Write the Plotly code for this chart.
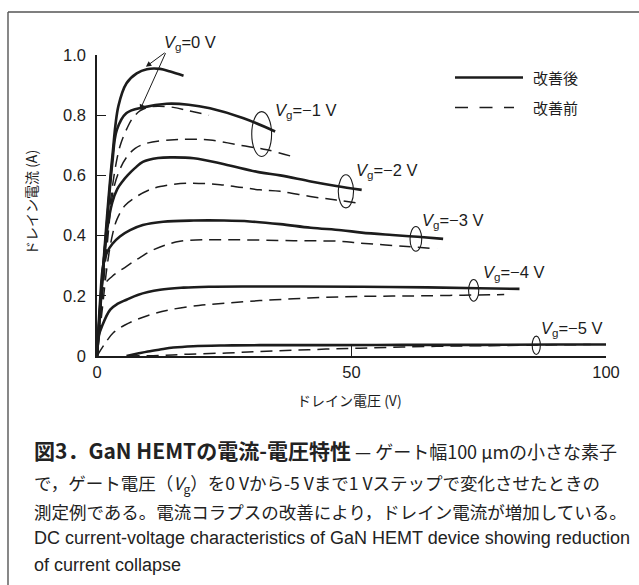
import plotly.graph_objects as go

# Drain current vs drain voltage, solid = after improvement, dashed = before
vd_after_0 = [0, 1, 2, 3, 4.2, 5.8, 7.8, 9.8, 12.4, 14.4, 17]
id_after_0 = [0, 0.25, 0.47, 0.66, 0.83, 0.906, 0.939, 0.953, 0.954, 0.945, 0.931]
vd_before_0 = [0, 1, 2, 3, 4.5, 6, 7, 8.5, 10, 12, 15, 18, 22]
id_before_0 = [0, 0.2, 0.4, 0.56, 0.696, 0.76, 0.79, 0.815, 0.826, 0.83, 0.826, 0.815, 0.80]

vd_after_1 = [0, 1, 2, 3, 3.9, 5.8, 9.1, 13.7, 18, 22.2, 28.8, 35]
id_after_1 = [0, 0.24, 0.45, 0.64, 0.751, 0.807, 0.826, 0.838, 0.835, 0.823, 0.79, 0.746]
vd_before_1 = [0, 1, 2, 3.2, 4.5, 5.8, 7.5, 9.8, 14.4, 18, 22.2, 28.1, 33.4, 38.3]
id_before_1 = [0, 0.19, 0.37, 0.55, 0.62, 0.66, 0.69, 0.707, 0.718, 0.72, 0.718, 0.70, 0.685, 0.663]

vd_after_2 = [0, 1, 2, 3, 4, 5, 6, 7.5, 9, 12, 15, 19, 25, 32, 36, 42, 47, 52]
id_after_2 = [0, 0.25, 0.42, 0.51, 0.555, 0.58, 0.6, 0.625, 0.645, 0.658, 0.66, 0.657, 0.637, 0.61, 0.6, 0.58, 0.565, 0.552]
vd_before_2 = [0, 1, 2, 3, 3.9, 5.5, 7.8, 10, 12.4, 17.6, 24.2, 32, 36, 41.9, 47, 51.4]
id_before_2 = [0, 0.15, 0.3, 0.4, 0.453, 0.5, 0.53, 0.55, 0.563, 0.574, 0.569, 0.552, 0.547, 0.53, 0.518, 0.508]

vd_after_3 = [0, 0.6, 1.2, 2, 3, 4.5, 6.5, 9, 13, 19, 25, 30, 36, 42, 48, 52, 58, 63, 68]
id_after_3 = [0, 0.18, 0.3, 0.345, 0.372, 0.397, 0.418, 0.435, 0.446, 0.45, 0.45, 0.447, 0.438, 0.426, 0.418, 0.41, 0.402, 0.396, 0.389]
vd_before_3 = [0, 0.5, 1.2, 3, 5.8, 8.5, 11.1, 16.3, 25.5, 38.6, 47.8, 51.7, 60.9, 66.8]
id_before_3 = [0, 0.12, 0.23, 0.265, 0.298, 0.328, 0.353, 0.381, 0.386, 0.383, 0.381, 0.375, 0.364, 0.356]

vd_after_4 = [0, 0.4, 1, 2.6, 4, 5.8, 8, 12.4, 17, 22, 30, 40, 52, 65, 75, 83]
id_after_4 = [0, 0.07, 0.1, 0.154, 0.173, 0.187, 0.203, 0.22, 0.227, 0.23, 0.231, 0.231, 0.23, 0.228, 0.225, 0.223]
vd_before_4 = [0, 1.5, 3.2, 5.5, 7.8, 11, 14.4, 20, 25.5, 32, 38.6, 45, 51.7, 58, 64, 72, 80]
id_before_4 = [0, 0.04, 0.077, 0.103, 0.121, 0.14, 0.154, 0.168, 0.176, 0.184, 0.19, 0.195, 0.198, 0.199, 0.2, 0.202, 0.204]

vd_after_5 = [5.8, 8, 10, 12.4, 15, 18.9, 25, 32, 45, 60, 75, 90, 100]
id_after_5 = [0, 0.008, 0.015, 0.0216, 0.028, 0.0326, 0.035, 0.036, 0.036, 0.037, 0.037, 0.038, 0.038]
vd_before_5 = [6, 12.4, 18, 25.5, 32, 38.6, 45, 51.7, 60, 70, 80, 90, 97]
id_before_5 = [0, 0.002, 0.006, 0.01, 0.015, 0.019, 0.023, 0.026, 0.03, 0.033, 0.035, 0.037, 0.038]

gate_labels = ["0", "−1", "−2", "−3", "−4", "−5"]
x_ticks = [0, 50, 100]
y_ticks = [0, 0.2, 0.4, 0.6, 0.8, 1.0]
y_tick_text = ["0", "0.2", "0.4", "0.6", "0.8", "1.0"]
legend_labels = ["改善後", "改善前"]

after = [(vd_after_0, id_after_0), (vd_after_1, id_after_1), (vd_after_2, id_after_2),
         (vd_after_3, id_after_3), (vd_after_4, id_after_4), (vd_after_5, id_after_5)]
before = [(vd_before_0, id_before_0), (vd_before_1, id_before_1), (vd_before_2, id_before_2),
          (vd_before_3, id_before_3), (vd_before_4, id_before_4), (vd_before_5, id_before_5)]

INK = "#1c1c1c"
W, H = 639, 585
L, R, T, B = 97, 33, 55, 229
PW, PH = W - L - R, H - T - B


def px(x):
    return (x - L) / PW


def py(y):
    return (H - B - y) / PH


fig = go.Figure()
for vd, idd in before:
    fig.add_trace(go.Scatter(x=vd, y=idd, mode="lines", line_shape="spline",
                             line=dict(color=INK, width=1.5, dash="12px,7px"),
                             showlegend=False, hoverinfo="skip"))
for vd, idd in after:
    fig.add_trace(go.Scatter(x=vd, y=idd, mode="lines", line_shape="spline",
                             line=dict(color=INK, width=2.6),
                             showlegend=False, hoverinfo="skip"))

lab_font = dict(family="Liberation Sans", size=16.5, color=INK)
annotations = []

# gate-voltage labels (pixel centres on the page)
label_pos = [(190, 43), (305, 111), (386, 171), (452, 221), (513, 273), (571, 329)]
for g, (lx, ly) in zip(gate_labels, label_pos):
    annotations.append(dict(x=px(lx), y=py(ly), xref="paper", yref="paper", showarrow=False,
                            text=f"<i>V</i><sub>g</sub>={g} V",
                            font=lab_font, xanchor="center", yanchor="middle"))

# arrows from the Vg=0 label
for tx, ty in [(9.6, 0.961), (8.45, 0.818)]:
    annotations.append(dict(x=tx, y=ty, ax=13.6, ay=1.011, xref="x", yref="y",
                            axref="x", ayref="y", showarrow=True, text="",
                            arrowhead=2, arrowsize=1.1, arrowwidth=1, arrowcolor=INK))

# loops enclosing each pair of curve ends
shapes = []
loops = [(30.4, 34.3, 0.663, 0.812), (47.4, 50.4, 0.492, 0.602), (61.5, 63.8, 0.348, 0.430),
         (73.0, 75.0, 0.182, 0.254), (85.5, 87.1, 0.005, 0.066)]
for x0, x1, y0, y1 in loops:
    shapes.append(dict(type="circle", xref="x", yref="y", x0=x0, x1=x1, y0=y0, y1=y1,
                       line=dict(color=INK, width=1.1)))

# legend drawn as sample lines with labels
shapes.append(dict(type="line", xref="paper", yref="paper", x0=px(455), x1=px(523),
                   y0=py(77.5), y1=py(77.5), line=dict(color=INK, width=2.6)))
shapes.append(dict(type="line", xref="paper", yref="paper", x0=px(455), x1=px(514),
                   y0=py(107.5), y1=py(107.5), line=dict(color=INK, width=1.6, dash="13px,11.5px")))
for txt, yy in zip(legend_labels, [77.5, 107.5]):
    annotations.append(dict(x=px(531), y=py(yy), xref="paper", yref="paper", showarrow=False,
                            text=txt, xanchor="left", yanchor="middle",
                            font=dict(family="Noto Sans CJK JP", size=15, color=INK)))

# outer frame
shapes.append(dict(type="line", xref="paper", yref="paper", x0=px(8), x1=px(640),
                   y0=py(12), y1=py(12), line=dict(color="#555555", width=1.4)))
shapes.append(dict(type="line", xref="paper", yref="paper", x0=px(8), x1=px(8),
                   y0=py(12), y1=py(590), line=dict(color="#555555", width=1.4)))

# axis titles
cjk = "Noto Sans CJK JP"
annotations.append(dict(x=px(349), y=py(400), xref="paper", yref="paper", showarrow=False,
                        text="ドレイン電圧 (V)", xanchor="center", yanchor="middle",
                        font=dict(family=cjk, size=14, color=INK)))
annotations.append(dict(x=px(31), y=py(203), xref="paper", yref="paper", showarrow=False,
                        text="ドレイン電流 (A)", textangle=-90, xanchor="center", yanchor="middle",
                        font=dict(family=cjk, size=14, color=INK)))

# caption
caption = [
    ('<b><span style="font-size:21px">図3．GaN HEMTの電流-電圧特性</span></b> — ゲート幅100 μmの小さな素子',
     450, cjk, 18),
    ("で，ゲート電圧（<i>V</i><sub>g</sub>）を0 Vから-5 Vまで1 Vステップで変化させたときの", 484, cjk, 17.5),
    ("測定例である。電流コラプスの改善により，ドレイン電流が増加している。", 511, cjk, 17.5),
    ("DC current-voltage characteristics of GaN HEMT device showing reduction", 538, "Liberation Sans", 18),
    ("of current collapse", 565, "Liberation Sans", 18),
]
for txt, yy, fam, sz in caption:
    annotations.append(dict(x=px(32), y=py(yy), xref="paper", yref="paper", showarrow=False,
                            text=txt, xanchor="left", yanchor="middle",
                            font=dict(family=fam, size=sz, color="#222222")))

fig.update_layout(
    width=W, height=H, margin=dict(l=L, r=R, t=T, b=B),
    paper_bgcolor="white", plot_bgcolor="white",
    shapes=shapes, annotations=annotations, showlegend=False,
    xaxis=dict(range=[0, 100], tickvals=x_ticks, ticktext=[str(v) for v in x_ticks],
               showgrid=False, zeroline=False, showline=True, linecolor=INK, linewidth=1.5,
               ticks="inside", ticklen=10, tickwidth=1.3, tickcolor=INK,
               tickfont=dict(family="Liberation Sans", size=16.5, color=INK)),
    yaxis=dict(range=[0, 1.0], tickvals=y_ticks, ticktext=y_tick_text,
               showgrid=False, zeroline=False, showline=True, linecolor=INK, linewidth=1.5,
               ticks="inside", ticklen=9, tickwidth=1.3, tickcolor=INK, ticklabelstandoff=6,
               tickfont=dict(family="Liberation Sans", size=16.5, color=INK)),
)

fig.write_html("out.html")
